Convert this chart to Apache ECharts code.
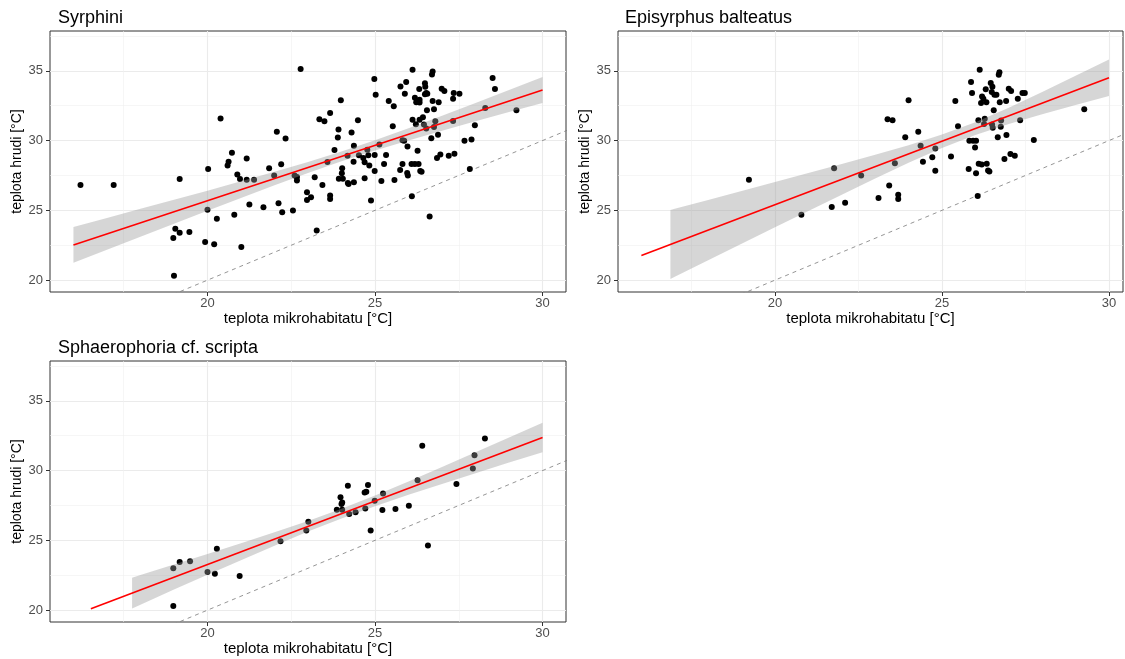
<!DOCTYPE html>
<html>
<head>
<meta charset="utf-8">
<script src="https://cdn.jsdelivr.net/npm/echarts@6/dist/echarts.min.js"></script>
<style>
  html, body { margin: 0; background: #fff; }
  #chart { width: 1125px; height: 659px; }
</style>
</head>
<body>
<div id="chart"></div>
<script>
const panelTitles = ['Syrphini', 'Episyrphus balteatus', 'Sphaerophoria cf. scripta'];
const xName = 'teplota mikrohabitatu [°C]';
const yName = 'teplota hrudi [°C]';
const xMajorTicks = [20, 25, 30];
const xMinorTicks = [17.5, 22.5, 27.5];
const yMajorTicks = [20, 25, 30, 35];
const yMinorTicks = [22.5, 27.5, 32.5, 37.5];

// Syrphini
const syrX = [16.21, 17.2, 18.98, 19.04, 19.17, 19.17, 19.46, 19.0, 20.02, 20.0, 19.93, 20.2, 20.28, 20.39, 20.6, 20.63, 20.73, 20.89, 20.97, 20.8,
  21.01, 21.17, 21.17, 21.25, 21.39, 21.67, 21.84, 21.99, 22.07, 22.12, 22.2, 22.23, 22.33, 22.55, 22.6, 22.67, 22.67, 22.78, 22.97, 22.97,
  23.09, 23.2, 23.26, 23.34, 23.49, 23.43, 23.58, 23.66, 23.66, 23.66, 23.79, 23.91, 23.89, 23.98, 23.92, 24.01, 24.02, 24.04, 24.18, 24.19,
  24.21, 24.3, 24.37, 24.36, 24.37, 24.49, 24.52, 24.65, 24.69, 24.69, 24.77, 24.8, 24.83, 24.88, 24.99, 24.99, 24.98, 25.02, 25.13, 25.19,
  25.27, 25.33, 25.41, 25.53, 25.56, 25.58, 25.76, 25.75, 25.82, 25.82, 25.87, 25.93, 25.89, 25.96, 25.97, 25.98, 26.1, 26.12, 26.09, 26.12,
  26.19, 26.19, 26.22, 26.27, 26.3, 26.23, 26.32, 26.33, 26.33, 26.35, 26.33, 26.39, 26.43, 26.46, 26.49, 26.49, 26.5, 26.53, 26.53, 26.56,
  26.55, 26.63, 26.68, 26.7, 26.72, 26.72, 26.76, 26.76, 26.8, 26.88, 26.85, 26.9, 26.95, 26.99, 27.07, 27.2, 27.33, 27.33, 27.35, 27.37,
  27.52, 27.67, 27.83, 27.88, 27.98, 28.29, 28.51, 28.58, 29.22];
const syrY = [26.82, 26.82, 23.02, 23.68, 27.25, 23.4, 23.44, 20.31, 27.96, 25.04, 22.73, 22.57, 24.4, 31.58, 28.22, 28.49, 29.13, 27.56, 27.25, 24.68,
  22.38, 28.72, 27.2, 25.42, 27.2, 25.23, 28.01, 27.49, 30.63, 25.51, 28.3, 24.87, 30.15, 24.99, 27.49, 27.13, 27.39, 35.12, 26.3, 25.75,
  25.94, 27.37, 23.56, 31.53, 31.39, 26.82, 28.46, 31.98, 26.06, 25.82, 29.32, 30.79, 30.22, 32.88, 27.27, 27.65, 28.01, 27.27, 28.91, 26.96,
  26.89, 30.58, 29.63, 28.49, 27.01, 31.46, 28.94, 28.75, 28.44, 27.3, 29.34, 28.94, 28.22, 25.7, 28.96, 27.82, 34.41, 33.29, 29.72, 27.11,
  28.32, 28.96, 32.84, 31.03, 32.46, 27.18, 33.88, 27.89, 28.32, 30.03, 29.98, 34.19, 33.36, 27.68, 29.58, 27.49, 26.01, 35.07, 28.32, 31.5,
  33.07, 28.32, 31.17, 29.27, 28.32, 32.74, 33.69, 32.93, 32.72, 27.82, 31.5, 27.77, 31.67, 31.15, 33.31, 34.1, 33.86, 30.86, 33.41, 33.36,
  32.17, 24.56, 30.17, 34.74, 34.95, 32.84, 32.24, 30.98, 31.39, 30.41, 28.75, 32.74, 29.01, 33.72, 33.55, 28.91, 31.41, 33.0, 33.41, 29.06,
  33.36, 29.98, 27.96, 30.08, 31.1, 32.34, 34.48, 33.69, 32.17];
const syrBandX = [16, 17, 18, 19, 20, 21, 22, 23, 24, 25, 26, 27, 28, 29, 30];
const syrBandLo = [21.24, 22.17, 23.11, 24.04, 24.97, 25.89, 26.80, 27.67, 28.51, 29.29, 30.01, 30.70, 31.38, 32.04, 32.69];
const syrBandHi = [23.80, 24.45, 25.11, 25.76, 26.41, 27.09, 27.76, 28.47, 29.21, 30.03, 30.89, 31.78, 32.70, 33.62, 34.55];
const syrFitX = [16, 30];
const syrFitY = [22.52, 33.62];

// Episyrphus balteatus
const epiX = [19.22, 20.79, 21.7, 21.77, 22.1, 22.58, 23.1, 23.37, 23.42, 23.52, 23.59, 23.69, 23.69, 23.9, 24.0, 24.29, 24.36, 24.43, 24.71, 24.8,
  24.8, 25.27, 25.4, 25.48, 25.8, 25.82, 25.87, 25.9, 25.93, 25.99, 26.02, 26.02, 26.07, 26.09, 26.1, 26.13, 26.17, 26.19, 26.2, 26.24,
  26.26, 26.28, 26.31, 26.33, 26.34, 26.38, 26.42, 26.46, 26.49, 26.51, 26.5, 26.52, 26.55, 26.57, 26.63, 26.67, 26.7, 26.72, 26.73, 26.76,
  26.77, 26.87, 26.92, 26.93, 27.0, 27.05, 27.07, 27.18, 27.27, 27.34, 27.41, 27.48, 27.75, 29.26];
const epiY = [27.19, 24.69, 25.24, 28.02, 25.55, 27.49, 25.88, 31.53, 26.78, 31.46, 28.37, 26.12, 25.81, 30.23, 32.89, 30.63, 29.63, 28.49, 28.8, 29.44,
  27.83, 28.85, 32.84, 31.03, 27.97, 29.99, 34.19, 33.41, 29.99, 29.51, 27.66, 29.99, 26.02, 31.46, 28.33, 35.07, 32.7, 28.28, 33.15, 33.0,
  31.18, 31.56, 33.67, 32.74, 28.33, 27.85, 27.78, 34.12, 33.48, 33.86, 31.15, 30.91, 32.17, 33.29, 33.29, 30.23, 34.72, 34.9, 32.74, 30.99,
  31.44, 28.68, 32.84, 30.39, 33.72, 29.04, 33.55, 28.92, 33.0, 31.46, 33.41, 33.41, 30.04, 32.24];
const epiBandX = [16.87, 17, 18, 19, 20, 21, 22, 23, 24, 25, 26, 27, 28, 29, 30];
const epiBandLo = [20.09, 20.25, 21.43, 22.61, 23.79, 24.96, 26.12, 27.28, 28.41, 29.47, 30.40, 31.18, 31.88, 32.54, 33.20];
const epiBandHi = [25.03, 25.11, 25.75, 26.39, 27.03, 27.68, 28.32, 28.98, 29.67, 30.43, 31.32, 32.36, 33.48, 34.64, 35.80];
const epiFitX = [16, 30];
const epiFitY = [21.77, 34.5];

// Sphaerophoria cf. scripta
const sphX = [18.98, 18.98, 19.17, 19.48, 20.0, 20.22, 20.28, 20.96, 22.18, 22.95, 23.01, 23.86, 23.97, 24.0, 24.02, 24.02, 24.19, 24.23, 24.42, 24.69,
  24.74, 24.71, 24.79, 24.87, 24.99, 25.22, 25.24, 25.61, 26.01, 26.27, 26.41, 26.58, 27.43, 27.92, 27.97, 28.28];
const sphY = [20.3, 23.01, 23.44, 23.51, 22.73, 22.61, 24.39, 22.44, 24.94, 25.7, 26.34, 27.2, 28.08, 27.6, 27.72, 27.2, 28.91, 26.89, 27.01, 28.43,
  28.48, 27.29, 28.96, 25.7, 27.84, 27.17, 28.36, 27.25, 27.48, 29.31, 31.77, 24.63, 29.03, 30.15, 31.1, 32.29];
const sphBandX = [17.75, 18, 19, 20, 21, 22, 23, 24, 25, 26, 27, 28, 29, 30];
const sphBandLo = [20.12, 20.39, 21.47, 22.53, 23.58, 24.62, 25.63, 26.57, 27.45, 28.26, 29.04, 29.81, 30.57, 31.31];
const sphBandHi = [22.32, 22.51, 23.27, 24.03, 24.80, 25.58, 26.39, 27.27, 28.21, 29.22, 30.26, 31.31, 32.37, 33.43];
const sphFitX = [16.52, 30];
const sphFitY = [20.1, 32.37];

// y = x reference
const identityLine = [15, 31];

const font = 'Liberation Sans, Arial, sans-serif';
const zip = (a, b) => a.map((v, i) => [v, b[i]]);

const panels = [
  { grid: { left: 50, top: 31, width: 516, height: 261 }, xMax: 30.7, title: { left: 53, top: 4 },
    x: syrX, y: syrY, bx: syrBandX, lo: syrBandLo, hi: syrBandHi, fx: syrFitX, fy: syrFitY },
  { grid: { left: 618, top: 31, width: 505, height: 261 }, xMax: 30.42, title: { left: 620, top: 4 },
    x: epiX, y: epiY, bx: epiBandX, lo: epiBandLo, hi: epiBandHi, fx: epiFitX, fy: epiFitY },
  { grid: { left: 50, top: 361, width: 516, height: 261 }, xMax: 30.7, title: { left: 53, top: 334 },
    x: sphX, y: sphY, bx: sphBandX, lo: sphBandLo, hi: sphBandHi, fx: sphFitX, fy: sphFitY }
];

const option = {
  animation: false,
  backgroundColor: '#fff',
  textStyle: { fontFamily: font },
  title: [], grid: [], xAxis: [], yAxis: [], series: []
};

panels.forEach((p, i) => {
  option.title.push({
    text: panelTitles[i], left: p.title.left, top: p.title.top,
    textStyle: { fontSize: 18, fontWeight: 'normal', color: '#000', fontFamily: font }
  });
  option.grid.push(Object.assign({ show: true, borderColor: '#333', borderWidth: 1, backgroundColor: '#fff' }, p.grid));

  // major axes: labels, ticks, major grid
  option.xAxis.push({
    gridIndex: i, type: 'value', min: 15.3, max: p.xMax, position: 'bottom',
    axisLine: { show: false },
    axisTick: { show: true, customValues: xMajorTicks, length: 4, lineStyle: { color: '#333' } },
    axisLabel: { customValues: xMajorTicks, color: '#4d4d4d', fontSize: 13, margin: 5, fontFamily: font },
    splitLine: { show: true, lineStyle: { color: '#ebebeb', width: 1.1 } },
    name: xName, nameLocation: 'middle', nameGap: 19,
    nameTextStyle: { color: '#000', fontSize: 15, fontFamily: font }
  });
  // minor grid
  option.xAxis.push({
    gridIndex: i, type: 'value', min: 15.3, max: p.xMax, position: 'bottom',
    axisLine: { show: false },
    axisTick: { show: false, customValues: xMinorTicks },
    axisLabel: { show: false },
    splitLine: { show: true, lineStyle: { color: '#f0f0f0', width: 0.6 } }
  });
  option.yAxis.push({
    gridIndex: i, type: 'value', min: 19.15, max: 37.85, position: 'left',
    axisLine: { show: false },
    axisTick: { show: true, customValues: yMajorTicks, length: 4, lineStyle: { color: '#333' } },
    axisLabel: { customValues: yMajorTicks, color: '#4d4d4d', fontSize: 13, margin: 7, fontFamily: font },
    splitLine: { show: true, lineStyle: { color: '#ebebeb', width: 1.1 } },
    name: yName, nameLocation: 'middle', nameGap: 25,
    nameTextStyle: { color: '#000', fontSize: 14, fontFamily: font }
  });
  option.yAxis.push({
    gridIndex: i, type: 'value', min: 19.15, max: 37.85, position: 'left',
    axisLine: { show: false },
    axisTick: { show: false, customValues: yMinorTicks },
    axisLabel: { show: false },
    splitLine: { show: true, lineStyle: { color: '#f0f0f0', width: 0.6 } }
  });

  const xi = 2 * i, yi = 2 * i;
  option.series.push({
    type: 'line', xAxisIndex: xi, yAxisIndex: yi, data: zip(identityLine, identityLine),
    symbol: 'none', clip: true, z: 1, silent: true,
    lineStyle: { color: '#7a7a7a', width: 0.8, type: [4, 4] }
  });
  option.series.push({
    type: 'scatter', xAxisIndex: xi, yAxisIndex: yi, data: zip(p.x, p.y),
    symbolSize: 6, z: 2, itemStyle: { color: '#000', opacity: 1 }
  });
  // confidence band drawn over the points, as in the original
  option.series.push({
    type: 'custom', xAxisIndex: xi, yAxisIndex: yi, z: 3, silent: true,
    data: [[p.bx[0], p.lo[0]]],
    renderItem: (params, api) => {
      const upper = p.bx.map((x, k) => api.coord([x, p.hi[k]]));
      const lower = p.bx.map((x, k) => api.coord([x, p.lo[k]])).reverse();
      return { type: 'polygon', shape: { points: upper.concat(lower) }, style: { fill: 'rgba(153,153,153,0.4)' } };
    }
  });
  option.series.push({
    type: 'line', xAxisIndex: xi, yAxisIndex: yi, data: zip(p.fx, p.fy),
    symbol: 'none', z: 4, silent: true,
    lineStyle: { color: '#ff0000', width: 1.6 }
  });
});

const chart = echarts.init(document.getElementById('chart'));
chart.setOption(option);
</script>
</body>
</html>
